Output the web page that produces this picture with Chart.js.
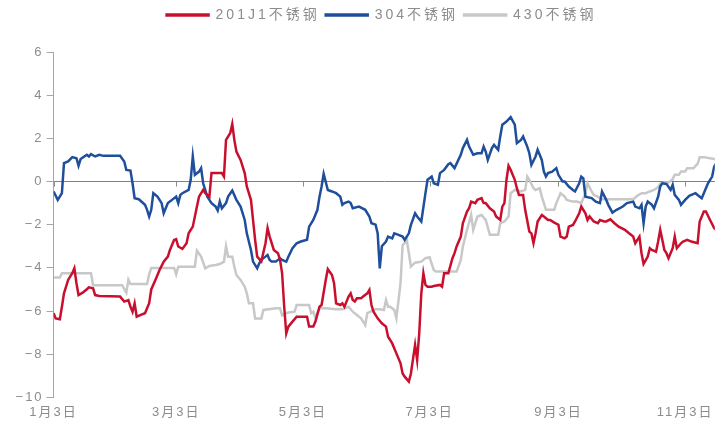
<!DOCTYPE html>
<html>
<head>
<meta charset="utf-8">
<script src="https://cdn.jsdelivr.net/npm/chart.js@4/dist/chart.umd.min.js"></script>
<style>
  html, body { margin: 0; padding: 0; background: #fff; }
</style>
</head>
<body>
<canvas id="chart" width="721" height="428"></canvas>
<script>
// 图例名称
const seriesNames = ['201J1不锈钢', '304不锈钢', '430不锈钢'];

// x 为距 1月3日 的天数
const redDays = [0, 1, 3, 4, 5, 7, 9, 10, 11, 12, 14, 16, 17, 19, 20, 22, 32, 34, 36, 37, 38, 39, 40, 42, 44, 46, 47, 49, 51, 53, 55, 56, 58, 59, 60, 62, 64, 65, 67, 69, 70, 72, 73, 75, 76, 78, 81, 82, 83, 85, 86, 87, 88, 90, 92, 93, 95, 96, 97, 98, 100, 102, 103, 104, 106, 108, 109, 110, 111, 112, 113, 115, 117, 119, 122, 123, 125, 126, 128, 129, 131, 132, 134, 135, 136, 138, 139, 140, 142, 143, 144, 145, 146, 148, 149, 151, 152, 153, 154, 156, 158, 160, 161, 162, 163, 165, 167, 168, 169, 171, 172, 174, 175, 176, 177, 178, 179, 180, 182, 183, 186, 187, 188, 190, 192, 193, 194, 196, 197, 199, 200, 201, 203, 204, 206, 207, 208, 210, 212, 213, 215, 216, 217, 218, 219, 220, 222, 223, 224, 226, 227, 229, 230, 231, 232, 233, 235, 236, 238, 239, 241, 243, 244, 246, 247, 248, 250, 251, 253, 254, 256, 257, 258, 260, 262, 263, 265, 266, 268, 270, 272, 275, 277, 279, 280, 281, 282, 283, 284, 286, 287, 288, 290, 291, 292, 293, 294, 295, 296, 298, 299, 300, 302, 303, 305, 307, 310, 311, 313, 314, 316, 318, 319];
const redValues = [-6.1, -6.34, -6.38, -5.8, -5.18, -4.56, -4.25, -4.02, -4.71, -5.26, -5.15, -4.99, -4.9, -4.95, -5.26, -5.3, -5.33, -5.56, -5.49, -5.8, -6.03, -5.64, -6.26, -6.18, -6.1, -5.64, -5.0, -4.56, -4.1, -3.71, -3.48, -3.17, -2.71, -2.67, -3.01, -3.12, -2.86, -2.4, -2.09, -1.16, -0.7, -0.39, -0.54, -0.7, 0.39, 0.39, 0.39, 0.23, 1.93, 2.24, 2.67, 1.93, 1.39, 1.0, 0.39, -0.23, -0.85, -1.78, -2.7, -3.48, -3.7, -2.86, -2.16, -2.55, -3.17, -3.32, -3.63, -4.25, -5.8, -7.03, -6.72, -6.49, -6.26, -6.26, -6.26, -6.72, -6.72, -6.5, -5.8, -5.72, -4.56, -4.06, -4.33, -4.71, -5.64, -5.72, -5.64, -5.8, -5.33, -5.18, -5.49, -5.56, -5.41, -5.41, -5.33, -5.18, -5.02, -5.72, -6.03, -6.34, -6.57, -6.72, -7.19, -7.34, -7.5, -7.96, -8.42, -8.89, -9.04, -9.27, -8.89, -7.57, -8.27, -7.03, -5.18, -4.25, -4.79, -4.87, -4.87, -4.84, -4.79, -4.87, -4.25, -4.25, -3.55, -3.32, -3.01, -2.55, -1.93, -1.39, -1.24, -0.93, -1.0, -0.85, -0.77, -1.0, -1.0, -1.24, -1.39, -1.62, -1.78, -1.16, -1.0, 0.08, 0.73, 0.54, 0.08, -0.31, -0.62, -0.62, -1.31, -2.32, -2.4, -2.86, -2.4, -1.85, -1.55, -1.62, -1.78, -1.78, -1.9, -2.0, -2.55, -2.63, -2.55, -2.09, -2.01, -1.85, -1.47, -1.16, -1.47, -1.78, -1.62, -1.85, -1.93, -1.78, -1.85, -1.85, -1.75, -1.93, -2.09, -2.24, -2.4, -2.55, -2.86, -2.7, -2.55, -3.32, -3.82, -3.48, -3.09, -3.17, -3.25, -2.78, -2.24, -2.7, -3.17, -3.32, -3.55, -3.09, -2.55, -3.09, -2.86, -2.78, -2.7, -2.78, -2.86, -1.85, -1.39, -1.39, -1.78, -2.16, -2.24];

const blueDays = [0, 2, 4, 5, 7, 9, 11, 12, 13, 16, 17, 18, 20, 22, 24, 32, 34, 35, 37, 38, 39, 41, 44, 45, 46, 47, 48, 50, 52, 53, 55, 57, 59, 60, 61, 62, 65, 66, 67, 68, 70, 71, 72, 74, 75, 76, 78, 79, 80, 81, 83, 84, 86, 88, 90, 92, 93, 95, 96, 98, 99, 100, 102, 103, 104, 105, 107, 109, 110, 112, 113, 115, 117, 119, 122, 123, 125, 127, 128, 129, 130, 132, 134, 136, 138, 139, 140, 142, 143, 144, 147, 150, 152, 153, 155, 156, 157, 158, 160, 161, 163, 164, 166, 168, 169, 171, 172, 174, 175, 177, 179, 180, 182, 183, 185, 186, 188, 190, 191, 193, 196, 197, 199, 200, 202, 204, 206, 207, 208, 209, 211, 212, 214, 215, 216, 218, 220, 222, 223, 225, 226, 228, 229, 230, 232, 233, 235, 236, 237, 238, 240, 242, 243, 245, 246, 248, 250, 251, 253, 254, 255, 256, 259, 261, 263, 264, 266, 267, 269, 271, 274, 276, 279, 280, 282, 283, 284, 285, 286, 288, 289, 291, 292, 293, 295, 297, 298, 299, 301, 302, 304, 306, 307, 309, 310, 312, 314, 315, 317, 318, 319];
const blueValues = [-0.46, -0.85, -0.54, 0.85, 0.93, 1.13, 1.08, 0.73, 1.04, 1.24, 1.16, 1.27, 1.16, 1.24, 1.19, 1.19, 0.93, 0.54, 0.51, -0.08, -0.77, -0.82, -1.08, -1.31, -1.62, -1.31, -0.54, -0.7, -1.0, -1.47, -1.0, -0.85, -0.7, -1.0, -0.62, -0.54, -0.39, 0.08, 1.16, 0.31, 0.46, 0.62, -0.08, -0.7, -0.85, -1.0, -1.16, -1.34, -0.93, -1.24, -1.0, -0.7, -0.42, -0.85, -1.16, -1.78, -2.4, -3.17, -3.71, -4.02, -3.79, -3.63, -3.48, -3.4, -3.63, -3.71, -3.71, -3.56, -3.63, -3.71, -3.48, -3.09, -2.86, -2.78, -2.7, -2.09, -1.78, -1.31, -0.7, -0.23, 0.36, -0.39, -0.46, -0.54, -0.7, -1.08, -1.0, -0.93, -1.0, -1.24, -1.16, -1.31, -1.62, -1.93, -2.0, -2.4, -4.02, -3.0, -2.78, -2.55, -2.63, -2.4, -2.47, -2.55, -2.7, -2.4, -2.01, -1.47, -1.62, -1.85, -0.54, 0.08, 0.23, -0.08, -0.15, 0.39, 0.54, 0.8, 0.85, 0.62, 1.24, 1.55, 1.93, 1.62, 1.24, 1.31, 1.31, 1.62, 1.39, 1.0, 1.55, 1.7, 1.47, 2.09, 2.63, 2.78, 2.98, 2.63, 1.78, 1.93, 2.09, 1.62, 1.31, 0.77, 1.16, 1.47, 1.0, 0.46, 0.23, 0.39, 0.46, 0.62, 0.31, 0.0, 0.0, -0.23, -0.39, -0.46, -0.08, 0.23, 0.15, -0.7, -0.77, -0.93, -1.0, -0.46, -0.85, -1.08, -1.44, -1.31, -1.16, -1.0, -0.93, -1.16, -1.24, -1.08, -1.93, -1.16, -0.93, -1.08, -1.24, -0.7, -0.23, -0.08, -0.11, -0.39, -0.15, -0.62, -0.85, -1.08, -0.85, -0.66, -0.62, -0.54, -0.62, -0.77, -0.31, -0.08, 0.23, 0.7, 0.85];

const grayDays = [0, 3, 4, 18, 19, 33, 35, 36, 37, 45, 46, 47, 58, 59, 60, 68, 69, 71, 73, 75, 78, 80, 82, 83, 84, 86, 87, 88, 90, 92, 93, 94, 96, 97, 100, 101, 107, 109, 110, 112, 113, 116, 117, 123, 124, 125, 126, 128, 131, 136, 139, 142, 144, 146, 148, 150, 151, 155, 157, 159, 160, 161, 162, 164, 165, 167, 168, 169, 170, 171, 172, 174, 177, 179, 181, 183, 184, 194, 196, 197, 199, 201, 202, 204, 206, 208, 210, 214, 215, 217, 219, 220, 222, 225, 227, 228, 229, 231, 232, 234, 235, 236, 237, 241, 242, 244, 246, 247, 250, 252, 254, 256, 257, 259, 260, 262, 264, 279, 281, 283, 285, 287, 289, 291, 292, 294, 296, 298, 299, 301, 302, 304, 305, 308, 310, 311, 313, 316, 319];
const grayValues = [-4.45, -4.45, -4.25, -4.25, -4.8, -4.8, -5.15, -4.55, -4.75, -4.75, -4.3, -4.0, -4.0, -4.3, -3.95, -3.95, -3.2, -3.48, -4.02, -3.91, -3.87, -3.82, -3.71, -3.0, -3.48, -3.48, -3.94, -4.33, -4.56, -4.87, -5.18, -5.64, -5.64, -6.34, -6.34, -5.95, -5.87, -5.87, -6.2, -6.1, -6.07, -6.03, -5.72, -5.72, -6.1, -6.03, -6.3, -5.87, -5.87, -5.92, -5.92, -5.8, -6.03, -6.18, -6.34, -6.65, -6.1, -5.92, -5.92, -5.95, -5.49, -5.8, -5.8, -5.95, -6.34, -4.71, -2.94, -2.86, -2.7, -3.32, -3.94, -3.76, -3.71, -3.55, -3.51, -4.1, -4.17, -4.17, -3.63, -3.01, -2.24, -1.55, -2.24, -1.62, -1.55, -1.78, -2.47, -2.47, -1.93, -1.85, -1.62, -0.54, -0.39, -0.46, -0.39, 0.23, 0.08, -0.31, -0.39, -0.31, -0.7, -1.0, -1.31, -1.31, -1.0, -0.54, -0.7, -0.85, -0.93, -0.93, -1.0, -0.55, -0.08, -0.46, -0.62, -0.7, -0.82, -0.82, -0.66, -0.54, -0.54, -0.46, -0.39, -0.26, -0.11, -0.05, -0.05, 0.11, 0.31, 0.31, 0.46, 0.46, 0.62, 0.62, 0.82, 1.13, 1.13, 1.08, 1.04];

// 横轴刻度
const tickDays = [0, 59, 120, 181, 243, 304];
const tickLabels = ['1月3日', '3月3日', '5月3日', '7月3日', '9月3日', '11月3日'];

const colors = ['#c8102e', '#1f4e9a', '#c8c8c8'];
const lastDay = 318.3;

function toPoints(days, values) {
  return days.map((d, i) => ({ x: d, y: values[i] }));
}

// 图例：加宽字距、下方留白、整体右移
const legendTweak = {
  id: 'legendTweak',
  beforeInit(chart) {
    const legend = chart.legend;
    const fit = legend.fit;
    const draw = legend.draw;
    const spaced = (fn) => function () {
      const ctx = this.ctx;
      const old = ctx.letterSpacing;
      ctx.letterSpacing = '3px';
      fn.call(this);
      ctx.letterSpacing = old;
    };
    const spacedFit = spaced(fit);
    legend.fit = function () {
      spacedFit.call(this);
      this.height += 20;
    };
    legend.draw = spaced(draw);
  },
  afterLayout(chart) {
    chart.legend.left += 42;
  }
};

// 坐标轴文字字距
const tickSpacing = {
  id: 'tickSpacing',
  beforeLayout(chart) { chart.ctx.letterSpacing = '2px'; },
  beforeDraw(chart) { chart.ctx.letterSpacing = '2px'; }
};

// 零轴上的月份刻度线
const zeroTicks = {
  id: 'zeroTicks',
  beforeDatasetsDraw(chart) {
    const { ctx, scales: { x, y } } = chart;
    const y0 = y.getPixelForValue(0);
    ctx.save();
    ctx.strokeStyle = '#8c8c8c';
    ctx.lineWidth = 1;
    tickDays.forEach(d => {
      const px = Math.round(x.getPixelForValue(d)) + 0.5;
      ctx.beginPath();
      ctx.moveTo(px, y0);
      ctx.lineTo(px, y0 + 5);
      ctx.stroke();
    });
    ctx.restore();
  }
};

Chart.defaults.font.family = "'Liberation Sans', 'Noto Sans CJK SC', sans-serif";
Chart.defaults.color = '#8c8c8c';

const series = [
  [redDays, redValues],
  [blueDays, blueValues],
  [grayDays, grayValues]
];

new Chart(document.getElementById('chart'), {
  type: 'line',
  data: {
    datasets: series.map(([days, values], i) => ({
      label: seriesNames[i],
      data: toPoints(days, values),
      borderColor: colors[i],
      backgroundColor: colors[i],
      borderWidth: 2.5,
      pointRadius: 0,
      tension: 0
    }))
  },
  options: {
    responsive: false,
    animation: false,
    layout: { padding: { left: 0, top: 2, right: 0, bottom: 0 } },
    plugins: {
      legend: {
        position: 'top',
        labels: {
          boxWidth: 42,
          boxHeight: 1,
          padding: 6,
          font: { size: 14 },
          color: '#8c8c8c'
        }
      },
      tooltip: { enabled: false }
    },
    scales: {
      x: {
        type: 'linear',
        min: 0,
        max: lastDay,
        grid: { display: false, drawTicks: false },
        border: { display: false },
        afterBuildTicks(scale) {
          scale.ticks = tickDays.map(v => ({ value: v }));
        },
        ticks: {
          padding: 7.5,
          font: { size: 13 },
          maxRotation: 0,
          autoSkip: false,
          callback: v => tickLabels[tickDays.indexOf(v)]
        }
      },
      y: {
        min: -10,
        max: 6,
        afterFit(scale) { scale.width = 53.6; },
        border: { display: true, color: '#a6a6a6', width: 1 },
        grid: {
          color: c => (c.tick && c.tick.value === 0 ? '#808080' : 'rgba(0,0,0,0)'),
          tickColor: '#a6a6a6',
          tickLength: 7,
          lineWidth: 1
        },
        ticks: {
          stepSize: 2,
          padding: 3,
          font: { size: 13 },
          callback: v => (v < 0 ? '\u2212' + Math.abs(v) : String(v))
        }
      }
    }
  },
  plugins: [legendTweak, tickSpacing, zeroTicks]
});
</script>
</body>
</html>
